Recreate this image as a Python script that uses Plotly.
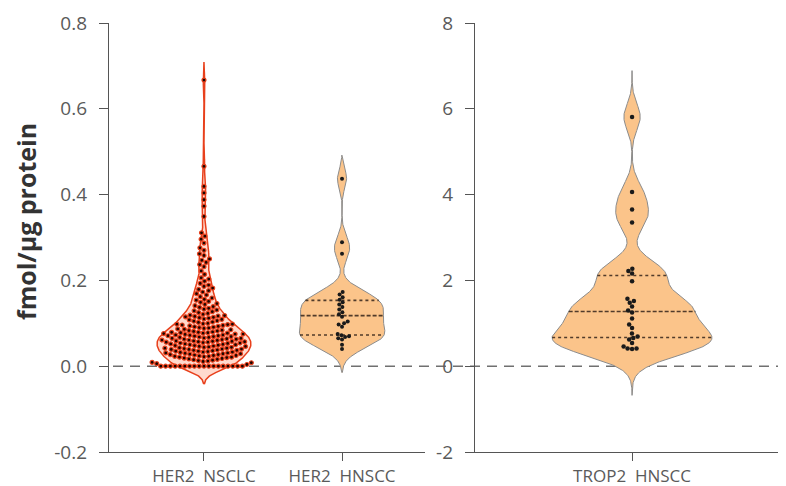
import numpy as np
import plotly.graph_objects as go

# ---------------- data ----------------
left_categories = ["HER2\u00a0 NSCLC", "HER2\u00a0 HNSCC"]
right_categories = ["TROP2\u00a0 HNSCC"]

her2_nsclc = [
    0.000, 0.000, 0.000, 0.000, 0.000, 0.000, 0.000, 0.000, 0.000, 0.000,
    0.000, 0.000, 0.000, 0.000, 0.000, 0.000, 0.000, 0.000,
    0.004, 0.006, 0.008, 0.009, 0.011, 0.012, 0.013, 0.014, 0.015, 0.016,
    0.017, 0.018, 0.019,
    0.020, 0.021, 0.021, 0.022, 0.023, 0.023, 0.024, 0.025, 0.025, 0.026,
    0.027, 0.027, 0.028, 0.029, 0.029, 0.030, 0.031, 0.031, 0.032, 0.033,
    0.033, 0.034, 0.035, 0.035, 0.036, 0.037, 0.037, 0.038, 0.039, 0.039,
    0.040, 0.040, 0.041, 0.042, 0.042, 0.043, 0.044, 0.044, 0.045, 0.046,
    0.046, 0.047, 0.048, 0.048, 0.049, 0.050, 0.050, 0.051, 0.052, 0.052,
    0.053, 0.054, 0.054, 0.055, 0.056, 0.056, 0.057, 0.057, 0.058, 0.058,
    0.059, 0.059, 0.060,
    0.061, 0.061, 0.062, 0.063, 0.063, 0.064, 0.065, 0.065, 0.066, 0.067,
    0.067, 0.068, 0.069, 0.069, 0.070, 0.071, 0.071, 0.072, 0.073, 0.073,
    0.074, 0.075, 0.075, 0.076, 0.077, 0.077, 0.078, 0.078, 0.079, 0.079,
    0.080,
    0.081, 0.082, 0.083, 0.084, 0.085, 0.086, 0.087, 0.088, 0.089, 0.090,
    0.091, 0.092, 0.093, 0.094, 0.095, 0.096, 0.097, 0.098, 0.098, 0.099,
    0.100,
    0.102, 0.103, 0.105, 0.106, 0.108, 0.109, 0.110, 0.112, 0.113, 0.114,
    0.115, 0.116, 0.117, 0.118, 0.119,
    0.121, 0.123, 0.125, 0.127, 0.129, 0.131, 0.133, 0.135, 0.137, 0.139,
    0.141, 0.144, 0.146, 0.149, 0.151, 0.154, 0.156, 0.159,
    0.162, 0.166, 0.169, 0.173, 0.176, 0.179,
    0.182, 0.186, 0.189, 0.193, 0.198,
    0.203, 0.206, 0.214,
    0.222, 0.232, 0.237,
    0.242, 0.247, 0.250, 0.258,
    0.262, 0.270, 0.276,
    0.287, 0.296, 0.303, 0.311,
    0.349, 0.373, 0.388, 0.404, 0.419,
    0.466, 0.667,
]

her2_hnscc = [
    0.040, 0.050, 0.062, 0.065, 0.068, 0.070, 0.072, 0.075, 0.092, 0.097,
    0.100, 0.104, 0.115, 0.121, 0.126, 0.132, 0.138, 0.144, 0.149, 0.155,
    0.161, 0.167, 0.173, 0.262, 0.289, 0.437,
]

trop2_hnscc = [
    0.40, 0.41, 0.41, 0.46, 0.54, 0.62, 0.66, 0.69, 0.76, 0.89,
    0.97, 1.11, 1.25, 1.30, 1.39, 1.48, 1.52, 1.57, 1.98, 2.16,
    2.22, 2.27, 3.35, 3.65, 4.06, 5.81,
]

left_ytick_vals = [-0.2, 0.0, 0.2, 0.4, 0.6, 0.8]
left_ytick_text = ["-0.2", "0.0", "0.2", "0.4", "0.6", "0.8"]
right_ytick_vals = [-2, 0, 2, 4, 6, 8]
right_ytick_text = ["-2", "0", "2", "4", "6", "8"]

# ---------------- geometry / style ----------------
OFF = 8                      # default body margin of the html page
W, H = 786 - OFF, 486 - OFF
M_T, M_B = 23 - OFF, 34
PLOT_H = H - M_T - M_B
LEFT_DOM = [(109 - OFF) / W, (425 - OFF) / W]
RIGHT_DOM = [(475 - OFF) / W, 1.0]
LEFT_XR = [-0.688, 1.601]
RIGHT_XR = [-0.505, 0.495]
LEFT_YR = [-0.2, 0.8]
RIGHT_YR = [-2, 8]

left_xpx = (LEFT_DOM[1] - LEFT_DOM[0]) * W / (LEFT_XR[1] - LEFT_XR[0])
right_xpx = (RIGHT_DOM[1] - RIGHT_DOM[0]) * W / (RIGHT_XR[1] - RIGHT_XR[0])
left_ypx = PLOT_H / (LEFT_YR[1] - LEFT_YR[0])
right_ypx = PLOT_H / (RIGHT_YR[1] - RIGHT_YR[0])

FONT = "Open Sans"
AXIS_COL = "#555555"
TICK_COL = "#5a5a5a"


def kde(vals, bw, cut, n=600):
    v = np.asarray(vals, float)
    grid = np.linspace(v.min() - cut * bw, v.max() + cut * bw, n)
    dens = np.exp(-0.5 * ((grid[:, None] - v[None, :]) / bw) ** 2).sum(1)
    return grid, dens


def dens_at(vals, bw, y):
    v = np.asarray(vals, float)
    return float(np.exp(-0.5 * ((y - v) / bw) ** 2).sum())


def swarm(vals, ypx, xpx, d):
    v = np.asarray(vals, float)
    order = np.argsort(v, kind="stable")
    ys = v * ypx
    xs = np.zeros(len(v))
    placed = []
    for i in order:
        y = ys[i]
        near = [(px, py) for (px, py) in placed if abs(py - y) < d]
        cands = [0.0]
        for px, py in near:
            dx = np.sqrt(max(d * d - (py - y) ** 2, 0.0))
            cands += [px + dx, px - dx]
        cands = sorted(cands, key=lambda c: (abs(c), c))
        for c in cands:
            if all((c - px) ** 2 + (y - py) ** 2 >= d * d - 1e-6 for px, py in near):
                xs[i] = c
                break
        placed.append((xs[i], y))
    return xs / xpx


fig = go.Figure()


def add_violin(vals, pos, bw, cut, half, xa, ya, fill, line_col, line_w, quart, dot_d, ypx, xpx,
               dot_size, dot_col, dot_line_col, dot_line_w):
    grid, dens = kde(vals, bw, cut)
    hw = half * dens / dens.max()
    xs = np.concatenate([pos + hw, (pos - hw)[::-1]])
    ys = np.concatenate([grid, grid[::-1]])
    fig.add_trace(go.Scatter(x=xs, y=ys, xaxis=xa, yaxis=ya, mode="lines", fill="toself",
                             fillcolor=fill, line=dict(color=line_col, width=line_w),
                             hoverinfo="skip", showlegend=False))
    if quart:
        qs = np.percentile(vals, [25, 50, 75])
        for q, dash in zip(qs, ["dot", "4px,2px", "dot"]):
            w = half * dens_at(vals, bw, q) / dens.max()
            fig.add_trace(go.Scatter(x=[pos - w, pos + w], y=[q, q], xaxis=xa, yaxis=ya,
                                     mode="lines", line=dict(color="rgba(50,35,25,0.85)",
                                                             width=1.6, dash=dash),
                                     hoverinfo="skip", showlegend=False))
    offs = swarm(vals, ypx, xpx, dot_d)
    fig.add_trace(go.Scatter(x=pos + offs, y=vals, xaxis=xa, yaxis=ya, mode="markers",
                             marker=dict(size=dot_size, color=dot_col,
                                         line=dict(color=dot_line_col, width=dot_line_w)),
                             hoverinfo="y", showlegend=False))


add_violin(her2_nsclc, 0, 0.015, 2.8, 0.34, "x", "y", "rgba(255,205,190,0.75)", "#E8401C", 1.5,
           False, 4.8, left_ypx, left_xpx, 4.0, "#1a0500", "#E8401C", 1.2)
add_violin(her2_hnscc, 1, 0.022, 2.5, 0.31, "x", "y", "#FBC48A", "#8c8c8c", 1.0,
           True, 4.0, left_ypx, left_xpx, 4.0, "#1a1a1a", "#1a1a1a", 0)
add_violin(trop2_hnscc, 0, 0.3, 3.6, 0.257, "x2", "y2", "#FBC48A", "#8c8c8c", 1.0,
           True, 4.5, right_ypx, right_xpx, 4.5, "#1a1a1a", "#1a1a1a", 0)

axis_common = dict(showline=True, linecolor=AXIS_COL, linewidth=1.4, ticks="outside",
                   tickcolor=AXIS_COL, tickwidth=1.4, showgrid=False, zeroline=False,
                   tickfont=dict(family=FONT, size=19, color=TICK_COL))
xfont = dict(family=FONT, size=17, color=TICK_COL)

fig.update_layout(
    width=W, height=H,
    margin=dict(l=0, r=0, t=M_T, b=M_B, pad=0),
    paper_bgcolor="white", plot_bgcolor="white",
    showlegend=False,
    xaxis=dict(domain=LEFT_DOM, range=LEFT_XR, anchor="y", tickvals=[0, 1],
               ticktext=left_categories, ticklen=8, **{**axis_common, "tickfont": xfont}),
    yaxis=dict(domain=[0, 1], range=LEFT_YR, anchor="x", tickvals=left_ytick_vals,
               ticktext=left_ytick_text, ticklen=9, ticklabelstandoff=8, **axis_common),
    xaxis2=dict(domain=RIGHT_DOM, range=RIGHT_XR, anchor="y2", tickvals=[0],
                ticktext=right_categories, ticklen=8, **{**axis_common, "tickfont": xfont}),
    yaxis2=dict(domain=[0, 1], range=RIGHT_YR, anchor="x2", tickvals=right_ytick_vals,
                ticktext=right_ytick_text, ticklen=9, ticklabelstandoff=8, **axis_common),
    shapes=[dict(type="line", xref="paper", yref="y", x0=(113 - OFF) / W, x1=1.0, y0=0, y1=0,
                 line=dict(color="#707070", width=1.5, dash="10px,7px"), layer="below")],
    annotations=[dict(text="<b>fmol/µg protein</b>", xref="paper", yref="paper",
                      x=(26 - OFF) / W, y=(H - M_B - (222 - OFF)) / PLOT_H, textangle=-90,
                      showarrow=False, font=dict(family=FONT, size=25, color="#333333"),
                      xanchor="center", yanchor="middle")],
)

fig.write_html("out.html")
